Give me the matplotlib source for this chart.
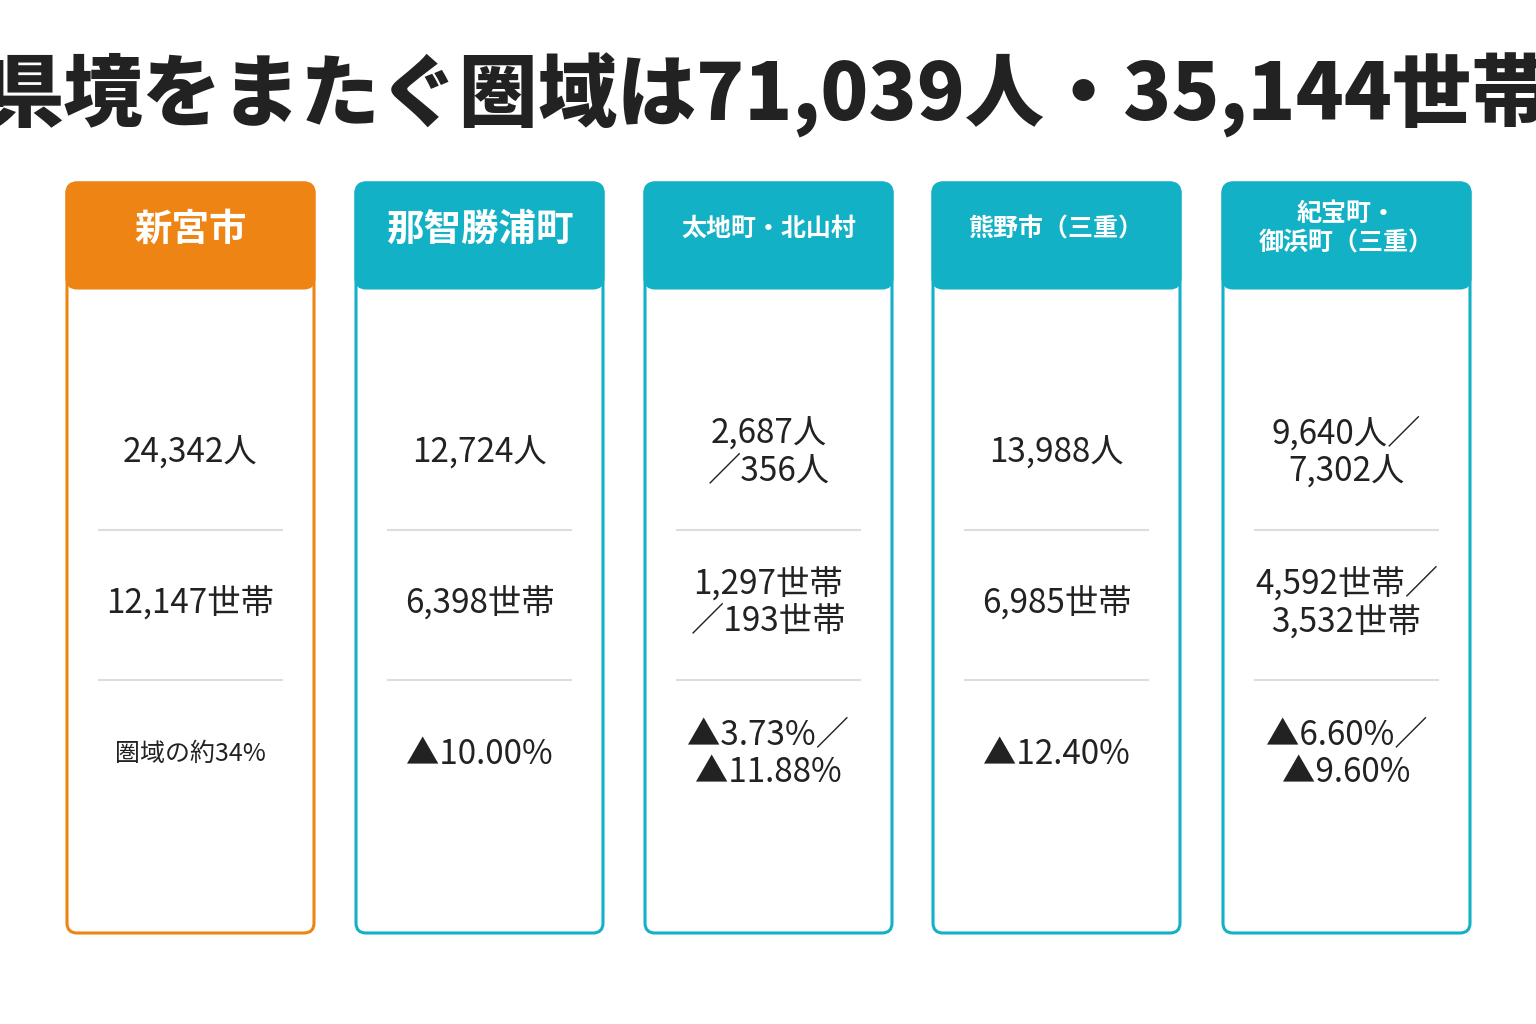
import matplotlib.pyplot as plt
from matplotlib.patches import FancyBboxPatch

plt.rcParams['font.family'] = ['Noto Sans CJK JP', 'DejaVu Sans']

# データ
title = "県境をまたぐ圏域は71,039人・35,144世帯"
areas = ["新宮市", "那智勝浦町", "太地町・北山村", "熊野市（三重）", "紀宝町・\n御浜町（三重）"]
population = ["24,342人", "12,724人", "2,687人\n／356人", "13,988人", "9,640人／\n7,302人"]
households = ["12,147世帯", "6,398世帯", "1,297世帯\n／193世帯", "6,985世帯", "4,592世帯／\n3,532世帯"]
change = ["圏域の約34%", "▲10.00%", "▲3.73%／\n▲11.88%", "▲12.40%", "▲6.60%／\n▲9.60%"]
header_sizes = [27, 27, 18, 18, 18]
change_sizes = [18, 24, 24, 24, 24]

ORANGE = "#EE8413"
TEAL = "#13B1C5"

fig = plt.figure(figsize=(15.36, 10.24), dpi=100)
ax = fig.add_axes([0, 0, 1, 1])
ax.set_xlim(0, 1536)
ax.set_ylim(1024, 0)
ax.axis('off')

ax.text(768, 95, title, ha='center', va='center', fontsize=57,
        fontweight='black', color='#222222')

card_x = [67, 356, 645, 933, 1223]
w, top, bottom, head = 247, 183, 933, 288
r = 10
for i, x in enumerate(card_x):
    col = ORANGE if i == 0 else TEAL
    # 枠
    ax.add_patch(FancyBboxPatch((x + r, top + r), w - 2 * r, bottom - top - 2 * r,
                                boxstyle=f"round,pad={r}", fc='white', ec=col, lw=2.2))
    # ヘッダー
    ax.add_patch(FancyBboxPatch((x + r, top + r), w - 2 * r, head - top - 2 * r,
                                boxstyle=f"round,pad={r}", fc=col, ec=col, lw=2.2))
    cx = x + w / 2
    ax.text(cx, 229, areas[i], ha='center', va='center', color='white',
            fontsize=header_sizes[i], fontweight='bold', linespacing=1.3)
    for yl in (530, 680):
        ax.plot([x + 32, x + w - 32], [yl, yl], color='#dddddd', lw=1.5)
    ax.text(cx, 453, population[i], ha='center', va='center', fontsize=24,
            color='#222222', linespacing=1.1)
    ax.text(cx, 603, households[i], ha='center', va='center', fontsize=24,
            color='#222222', linespacing=1.1)
    ax.text(cx, 754, change[i], ha='center', va='center', fontsize=change_sizes[i],
            color='#222222', linespacing=1.1)

fig.savefig('out.png', dpi=100, facecolor='white')
